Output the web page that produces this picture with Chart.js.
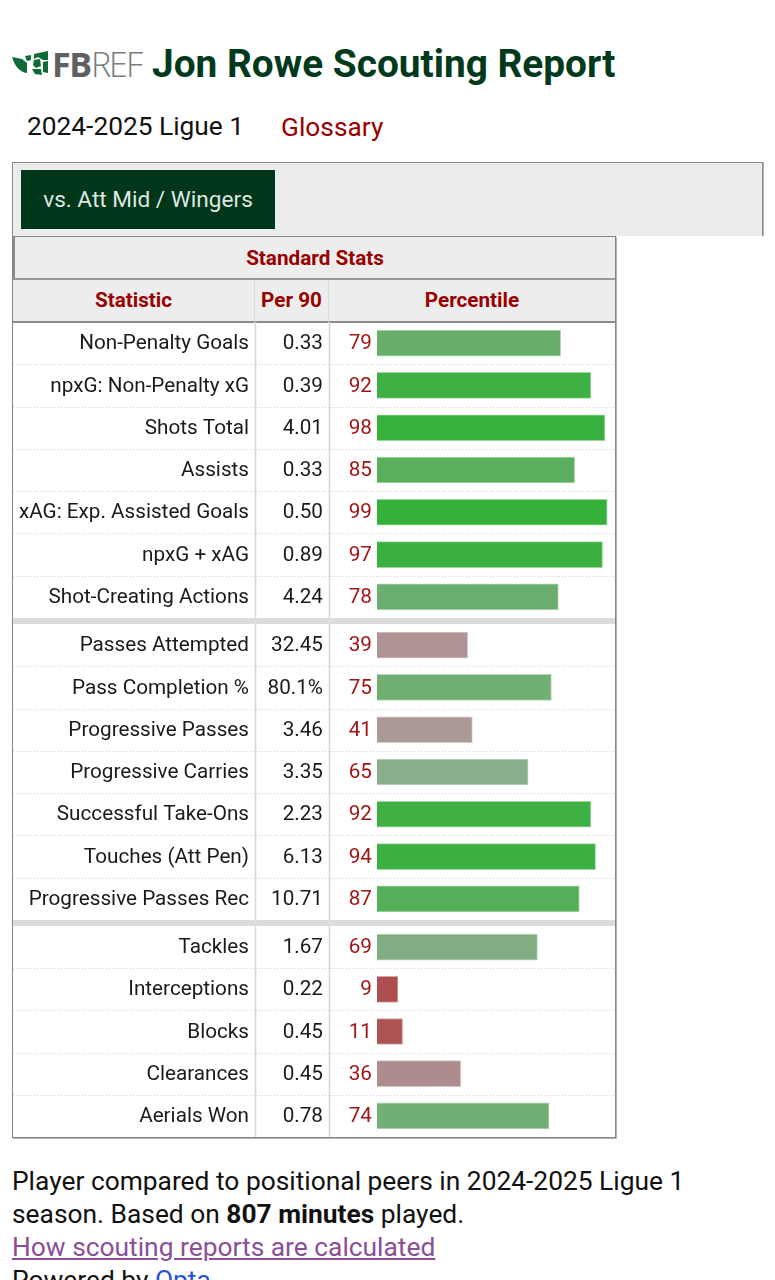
<!DOCTYPE html>
<html lang="en"><head><meta charset="utf-8"><title>Jon Rowe Scouting Report</title>
<script src="https://cdn.jsdelivr.net/npm/chart.js@4"></script>
<style>
html,body{margin:0;padding:0;background:#fff;width:775px;height:1280px;overflow:hidden;font-family:Roboto,sans-serif}
.a{position:absolute;white-space:nowrap}
#title{left:152px;top:41px;font-size:38.8px;line-height:46px;font-weight:700;color:#00391c}
#fb{left:52px;top:43px;font-size:34px;line-height:42px;letter-spacing:-1.3px;font-family:"Open Sans",sans-serif}
#fb b{font-weight:700;color:#5f6062}#fb span{font-weight:300;color:#7a7b7d;letter-spacing:-2px}
#season{left:27px;top:109px;font-size:26.3px;line-height:34px;color:#111}
#gloss{left:281px;top:110px;font-size:26.3px;line-height:34px;color:#990000}
#tabs{left:12px;top:162px;width:749px;height:73px;background:#ebeded;border:1px solid #8a8a8a;border-bottom:0;box-shadow:1px 0 0 #b5b5b5}
#tab{left:21px;top:170px;width:254px;height:59px;background:#00361a;color:#dfe6e0;font-size:22.6px;line-height:59px;text-align:center}
#table{left:12px;top:236px;width:602px;height:900px;border:1px solid #858585;background:#fff;box-shadow:1px 1px 0 #b5b5b5}
.h{position:absolute;background:#ededed;color:#990000;font-weight:700;font-size:20.7px;text-align:center;box-sizing:border-box}
.sep{position:absolute;left:0;width:602px;height:6px;background:#dcdcdc}
canvas{position:absolute;left:0}
#foot{left:12px;top:1165px;font-size:26.35px;line-height:33px;color:#111;white-space:normal;width:740px}
#foot a.v{color:#8a4f98;text-decoration:underline}#foot a.o{color:#2a4fe0;text-decoration:underline}
</style></head><body>
<svg class="a" style="left:0;top:0" width="60" height="90" viewBox="0 0 60 90">
<path fill="#0c6b37" d="M12 57 L22 59 L27 63 L27 73 C19 72 15 66 12 57Z M25 56 L31 55 L31 60 L27 61Z M34 54 L48 51 L48 60 L43 60 L38 57 L34 59Z M34 60 L40 59 L41 66 L36 68 L33 65Z M43 62 L48 61 L48 73 L43 72Z M32 69 L41 69 L42 75 L35 74Z"/></svg>
<div class="a" id="fb"><b>FB</b><span>REF</span></div>
<div class="a" id="title">Jon Rowe Scouting Report</div>
<div class="a" id="season">2024-2025 Ligue 1</div>
<div class="a" id="gloss">Glossary</div>
<div class="a" id="tabs"></div>
<div class="a" id="tab">vs. Att Mid / Wingers</div>
<div class="a" id="table">
<div class="h" style="left:0;top:0;width:602px;height:43px;line-height:42px;border-left:2px solid #8a8a8a;border-bottom:2px solid #999">Standard Stats</div>
<div class="h" style="left:0;top:43px;width:242px;height:43px;line-height:41px;border-bottom:2px solid #8a8a8a;border-right:1px solid #d8d8d8">Statistic</div>
<div class="h" style="left:242px;top:43px;width:74px;height:43px;line-height:41px;border-bottom:2px solid #8a8a8a;border-right:1px solid #d8d8d8">Per 90</div>
<div class="h" style="left:316px;top:43px;width:286px;height:43px;line-height:41px;border-bottom:2px solid #8a8a8a">Percentile</div>
<canvas id="c1" style="top:85px"></canvas>
<div class="sep" style="top:381px"></div>
<canvas id="c2" style="top:387px"></canvas>
<div class="sep" style="top:683px"></div>
<canvas id="c3" style="top:689px"></canvas>
</div>
<div class="a" id="foot">Player compared to positional peers in 2024-2025 Ligue 1 season. Based on <b>807 minutes</b> played.<br><a class="v">How scouting reports are calculated</a><br>Powered by <a class="o">Opta</a></div>
<script>
const attackStats=["Non-Penalty Goals","npxG: Non-Penalty xG","Shots Total","Assists","xAG: Exp. Assisted Goals","npxG + xAG","Shot-Creating Actions"];
const attackPer90=["0.33","0.39","4.01","0.33","0.50","0.89","4.24"];
const attackPercentile=[79,92,98,85,99,97,78];
const attackColors=["#68af6b","#3fb043","#38b03c","#5aaf5e","#35b039","#3ab03e","#6aaf6e"];
const passingStats=["Passes Attempted","Pass Completion %","Progressive Passes","Progressive Carries","Successful Take-Ons","Touches (Att Pen)","Progressive Passes Rec"];
const passingPer90=["32.45","80.1%","3.46","3.35","2.23","6.13","10.71"];
const passingPercentile=[39,75,41,65,92,94,87];
const passingColors=["#ae9494","#70af72","#ab9996","#8aae8c","#3fb043","#3cb040","#54af58"];
const defenseStats=["Tackles","Interceptions","Blocks","Clearances","Aerials Won"];
const defensePer90=["1.67","0.22","0.45","0.45","0.78"];
const defensePercentile=[69,9,11,36,74];
const defenseColors=["#80ae82","#ad4f4f","#ad5353","#ac8c8c","#72af75"];

const FONT={family:"Roboto",size:20.7};
const rowLines={id:"rowLines",beforeDraw(ch){
  const {ctx,width}=ch, s=ch.scales.pct, c=ctx;
  c.save();
  c.strokeStyle="#d6d6d6";c.lineWidth=1.5;
  for(const k of ["per90","pct"]){const x=Math.round(ch.scales[k].left)+.5;c.beginPath();c.moveTo(x,0);c.lineTo(x,ch.height);c.stroke();}
  c.lineWidth=1;c.strokeStyle="#cfcfcf";c.setLineDash([1,2]);
  const n=s.ticks.length;
  for(let i=1;i<n;i++){const y=Math.round((s.getPixelForValue(i-1)+s.getPixelForValue(i))/2)+.5;c.beginPath();c.moveTo(0,y);c.lineTo(width,y);c.stroke();}
  c.restore();
}};
function textAxis(labels,weight,color,w,pad){return {type:"category",axis:"y",position:"left",offset:true,labels,weight,
  border:{display:false},grid:{display:false,drawTicks:false},
  ticks:{autoSkip:false,font:FONT,color,padding:pad,crossAlign:"near",labelOffset:1},
  afterFit(s){s.width=w;s.paddingTop=0;s.paddingBottom=0;}};}
function build(id,h,stats,per90,pct,colors){
  const cv=document.getElementById(id);cv.width=602;cv.height=h;cv.style.width="602px";cv.style.height=h+"px";
  new Chart(cv,{type:"bar",plugins:[rowLines],
    data:{labels:stats,datasets:[{data:pct,yAxisID:"pct",backgroundColor:colors,borderColor:colors.map(c=>c+"80"),borderWidth:1,barThickness:26}]},
    options:{indexAxis:"y",responsive:false,animation:false,devicePixelRatio:1,
      layout:{padding:{right:5.5,left:0,top:0,bottom:0}},
      plugins:{legend:{display:false},tooltip:{enabled:false}},
      scales:{x:{type:"linear",min:0,max:100,display:false},
        stat:textAxis(stats,2,"#1a1a1a",242,6),
        per90:textAxis(per90,1,"#1a1a1a",74,6),
        pct:textAxis(pct.map(String),0,"#a01515",48,5)}}});
}
build("c1",296,attackStats,attackPer90,attackPercentile,attackColors);
build("c2",296,passingStats,passingPer90,passingPercentile,passingColors);
build("c3",211,defenseStats,defensePer90,defensePercentile,defenseColors);
</script></body></html>
